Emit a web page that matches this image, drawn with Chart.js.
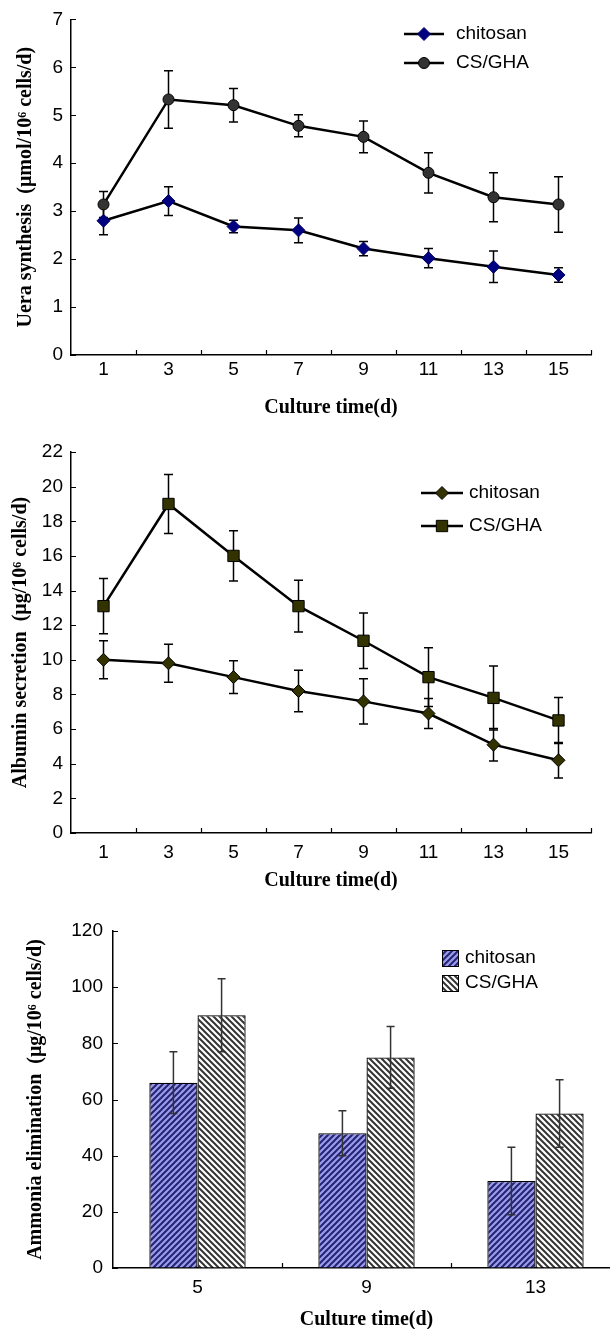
<!DOCTYPE html>
<html><head><meta charset="utf-8">
<script src="https://cdn.jsdelivr.net/npm/chart.js@4.4.1/dist/chart.umd.min.js"></script>
<style>
html,body{margin:0;padding:0;background:#fff;overflow:hidden;width:610px;height:1329px;position:relative}
.box{position:absolute;left:0;width:610px}
#b1{top:0;height:425px}
#b2{top:425px;height:468px}
#b3{top:893px;height:440px;width:630px}
</style></head><body>
<div class="box" id="b1"><canvas id="urea"></canvas></div>
<div class="box" id="b2"><canvas id="albumin"></canvas></div>
<div class="box" id="b3"><canvas id="ammonia"></canvas></div>
<script>
/* hepatocyte function on chitosan vs CS/GHA scaffolds */
const days=['1','3','5','7','9','11','13','15'];
const ureaChitosan=[2.80,3.21,2.68,2.60,2.22,2.02,1.84,1.67];
const ureaChitosanSd=[0.29,0.30,0.13,0.26,0.15,0.20,0.33,0.15];
const ureaCsgha=[3.14,5.33,5.21,4.78,4.55,3.80,3.29,3.14];
const ureaCsghaSd=[0.27,0.60,0.35,0.23,0.33,0.42,0.51,0.58];
const albChitosan=[10.0,9.8,9.0,8.2,7.6,6.9,5.1,4.2];
const albChitosanSd=[1.1,1.1,0.95,1.2,1.3,0.87,0.94,1.02];
const albCsgha=[13.1,19.0,16.0,13.1,11.1,9.0,7.8,6.5];
const albCsghaSd=[1.6,1.7,1.45,1.5,1.6,1.7,1.85,1.33];
const ammDays=['5','9','13'];
const ammChitosan=[66,48,31];
const ammChitosanSd=[11,8,12];
const ammCsgha=[90,75,55];
const ammCsghaSd=[13,11,12];
const seriesNames=['chitosan','CS/GHA'];
const xTitle='Culture time(d)';
const yTitles=['Uera synthesis  (\u03bcmol/10\u2076 cells/d)','Albumin secretion  (\u03bcg/10\u2076 cells/d)','Ammonia elimination  (\u03bcg/10\u2076 cells/d)'];

Chart.defaults.font.family='"Liberation Sans", Arial, sans-serif';
Chart.defaults.color='#000';
const tickFont={size:19};
const titleFont={family:'"Liberation Serif", "Times New Roman", serif',weight:'bold',size:20};

function hatch(bg,fg,dir){
  const c=document.createElement('canvas');c.width=c.height=6;const g=c.getContext('2d');
  g.fillStyle=bg;g.fillRect(0,0,6,6);g.strokeStyle=fg;g.lineWidth=2;g.beginPath();
  if(dir>0){g.moveTo(-3,3);g.lineTo(3,-3);g.moveTo(0,6);g.lineTo(6,0);g.moveTo(3,9);g.lineTo(9,3);}
  else{g.moveTo(-3,3);g.lineTo(3,9);g.moveTo(0,0);g.lineTo(6,6);g.moveTo(3,-3);g.lineTo(9,3);}
  g.stroke();return g.createPattern(c,'repeat');
}

function marker(ctx,style,r,x,y){
  ctx.beginPath();
  if(style==='circle')ctx.arc(x,y,r,0,Math.PI*2);
  else if(style==='rectRot'){ctx.moveTo(x-r,y);ctx.lineTo(x,y-r);ctx.lineTo(x+r,y);ctx.lineTo(x,y+r);ctx.closePath();}
  else{const s=r*Math.SQRT1_2;ctx.rect(x-s,y-s,2*s,2*s);}
  ctx.fill();ctx.stroke();
}

// mean +/- sd whiskers
function drawErrors(chart,o){
  const ctx=chart.ctx,ys=chart.scales.y;
  chart.data.datasets.forEach((ds,di)=>{
    const meta=chart.getDatasetMeta(di);
    ds.errors.forEach((e,i)=>{
      const el=meta.data[i];if(!el)return;
      const x=el.x,top=ys.getPixelForValue(ds.data[i]+e),bot=ys.getPixelForValue(ds.data[i]-e);
      ctx.save();ctx.strokeStyle=o.color;ctx.lineWidth=o.width;ctx.beginPath();
      ctx.moveTo(x,top);ctx.lineTo(x,bot);
      ctx.moveTo(x-o.cap,top);ctx.lineTo(x+o.cap,top);
      ctx.moveTo(x-o.cap,bot);ctx.lineTo(x+o.cap,bot);
      ctx.stroke();ctx.restore();
    });
  });
}
const errorBars={id:'errorBars',
  beforeDatasetsDraw(chart,a,o){if(o.layer!=='front')drawErrors(chart,o);},
  afterDatasetsDraw(chart,a,o){if(o.layer==='front')drawErrors(chart,o);}};

// short tick marks pointing into the plot
const innerTicks={id:'innerTicks',afterDraw(chart,a,o){
  const ctx=chart.ctx,xs=chart.scales.x,ys=chart.scales.y;
  ctx.save();ctx.strokeStyle='#000';ctx.lineWidth=1.2;ctx.beginPath();
  ys.ticks.forEach(t=>{const py=Math.round(ys.getPixelForValue(t.value))+0.5;ctx.moveTo(xs.left,py);ctx.lineTo(xs.left+o.len,py);});
  for(let k=1;k<=xs.ticks.length;k++){const px=Math.round(xs.getPixelForValue(k-0.5))+0.5;ctx.moveTo(px,ys.bottom);ctx.lineTo(px,ys.bottom-o.len);}
  ctx.stroke();ctx.restore();
}};

// legend placed inside the plot, top right
const boxLegend={id:'boxLegend',afterDraw(chart,a,o){
  const ctx=chart.ctx;
  chart.data.datasets.forEach((ds,i)=>{
    const y=o.top+i*o.gap;ctx.save();
    if(o.kind==='line'){
      ctx.strokeStyle='#000';ctx.lineWidth=ds.borderWidth;ctx.beginPath();ctx.moveTo(o.left,y);ctx.lineTo(o.left+o.len,y);ctx.stroke();
      ctx.fillStyle=ds.pointBackgroundColor;ctx.strokeStyle=ds.pointBorderColor;ctx.lineWidth=ds.pointBorderWidth;
      marker(ctx,ds.pointStyle,ds.pointRadius,o.left+o.len/2,y);
    }else{
      ctx.fillStyle=ds.backgroundColor;ctx.fillRect(o.left,y-o.len/2,o.len,o.len);
      ctx.strokeStyle='#000';ctx.lineWidth=1;ctx.strokeRect(o.left+0.5,y-o.len/2+0.5,o.len,o.len);
    }
    ctx.fillStyle='#000';ctx.font='19px "Liberation Sans", Arial, sans-serif';ctx.textBaseline='middle';
    ctx.fillText(ds.label,o.textX,y);ctx.restore();
  });
}};

function axes(cfg){
  return {
    x:{offset:true,grid:{display:true,drawOnChartArea:false,drawTicks:false,offset:true},border:{color:'#000',width:1.5},
       ticks:{font:tickFont,padding:cfg.xPad,maxRotation:0},
       title:{display:true,text:xTitle,font:titleFont,padding:{top:0,bottom:cfg.xTitlePad}},
       afterFit:s=>{s.height=cfg.xH;}},
    y:{min:0,max:cfg.max,grid:{display:true,drawOnChartArea:false,drawTicks:false},border:{color:'#000',width:1.5},
       ticks:{stepSize:cfg.step,font:tickFont,padding:cfg.yPad},
       title:{display:true,text:cfg.yTitle,font:titleFont,padding:{top:cfg.yTitlePad,bottom:0}},
       afterFit:s=>{s.width=cfg.yW;}}
  };
}

function lineSet(label,data,errors,style,radius,fill,edge){
  return {label:label,data:data,errors:errors,borderColor:'#000',borderWidth:2.5,pointStyle:style,pointRadius:radius,
    pointHoverRadius:radius,pointBackgroundColor:fill,pointBorderColor:edge,pointBorderWidth:1,tension:0,fill:false};
}

function lineChart(id,series,cfg,leg){
  new Chart(document.getElementById(id),{type:'line',data:{labels:days,datasets:series},
    options:{responsive:true,maintainAspectRatio:false,animation:false,
      layout:{padding:{top:cfg.top,right:cfg.right,left:0,bottom:0}},
      scales:axes(cfg),
      plugins:{legend:{display:false},tooltip:{enabled:false},
        errorBars:{color:'#000',width:1.5,cap:4.5,layer:'back'},innerTicks:{len:5},boxLegend:leg}},
    plugins:[errorBars,innerTicks,boxLegend]});
}

lineChart('urea',[
  lineSet(seriesNames[0],ureaChitosan,ureaChitosanSd,'rectRot',6.5,'#000080','#000060'),
  lineSet(seriesNames[1],ureaCsgha,ureaCsghaSd,'circle',5.5,'#333333','#000')
],{top:15,right:19,max:7,step:1,xH:70,xPad:3,xTitlePad:5,yW:71,yPad:8,yTitle:yTitles[0],yTitlePad:14},
{kind:'line',left:404,len:40,textX:456,top:34,gap:29});

lineChart('albumin',[
  lineSet(seriesNames[0],albChitosan,albChitosanSd,'rectRot',6.5,'#333300','#000'),
  lineSet(seriesNames[1],albCsgha,albCsghaSd,'rect',8,'#333300','#000')
],{top:27,right:19,max:22,step:2,xH:60,xPad:8,xTitlePad:0,yW:71,yPad:8,yTitle:yTitles[1],yTitlePad:9},
{kind:'line',left:421,len:42,textX:469,top:68,gap:33});

new Chart(document.getElementById('ammonia'),{type:'bar',
  data:{labels:ammDays,datasets:[
    {label:seriesNames[0],data:ammChitosan,errors:ammChitosanSd,backgroundColor:hatch('#9a9af0','#24246e',1),borderColor:'#000',borderWidth:1.3},
    {label:seriesNames[1],data:ammCsgha,errors:ammCsghaSd,backgroundColor:hatch('#ffffff','#333333',-1),borderColor:'#000',borderWidth:1.3}
  ]},
  options:{responsive:true,maintainAspectRatio:false,animation:false,
    layout:{padding:{top:38,right:10,left:0,bottom:0}},
    datasets:{bar:{categoryPercentage:0.57,barPercentage:1}},
    scales:axes({max:120,step:20,xH:65,xPad:8,xTitlePad:1,yW:113,yPad:10,yTitle:yTitles[2],yTitlePad:24}),
    plugins:{legend:{display:false},tooltip:{enabled:false},
      errorBars:{color:'#333',width:1.5,cap:4,layer:'front'},innerTicks:{len:5},
      boxLegend:{kind:'box',left:442,len:16,textX:465,top:65,gap:25}}},
  plugins:[errorBars,innerTicks,boxLegend]});
</script>
</body></html>
